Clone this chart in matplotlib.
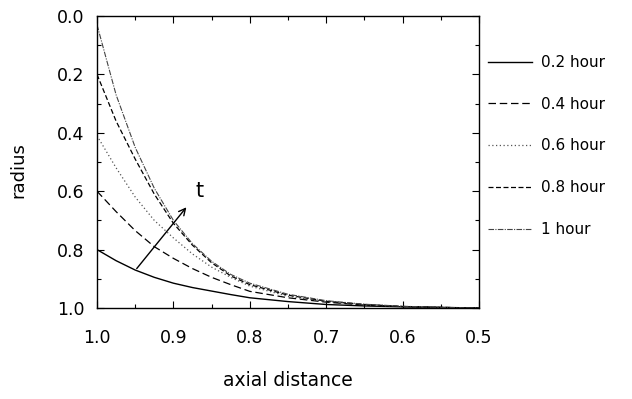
import matplotlib
matplotlib.use("Agg")
import matplotlib.pyplot as plt
from matplotlib.ticker import MultipleLocator

# --------------------------
# DATA
# --------------------------
axial = [1.0, 0.975, 0.95, 0.925, 0.9, 0.875, 0.85, 0.825, 0.8,
         0.75, 0.7, 0.65, 0.6, 0.55, 0.5]

r_02h = [0.80, 0.838, 0.87, 0.895, 0.915, 0.93, 0.942, 0.954, 0.965,
         0.978, 0.988, 0.993, 0.996, 0.998, 1.0]
r_04h = [0.60, 0.67, 0.735, 0.79, 0.83, 0.865, 0.895, 0.92, 0.943,
         0.965, 0.98, 0.99, 0.995, 0.998, 1.0]
r_06h = [0.41, 0.52, 0.62, 0.70, 0.76, 0.815, 0.86, 0.895, 0.925,
         0.96, 0.979, 0.989, 0.995, 0.998, 1.0]
r_08h = [0.20, 0.36, 0.49, 0.61, 0.71, 0.785, 0.845, 0.89, 0.92,
         0.956, 0.977, 0.988, 0.995, 0.998, 1.0]
r_1h = [0.03, 0.27, 0.45, 0.59, 0.70, 0.78, 0.84, 0.885, 0.915,
        0.953, 0.975, 0.987, 0.994, 0.998, 1.0]

labels = ["0.2 hour", "0.4 hour", "0.6 hour", "0.8 hour", "1 hour"]

# arrow showing increasing time
arrow_start = (0.948, 0.865)
arrow_end = (0.883, 0.655)
t_pos = (0.866, 0.60)

# --------------------------
# STYLE
# --------------------------
styles = [
    dict(color="black", linestyle="-", lw=1.0),
    dict(color="black", linestyle=(0, (6, 3)), lw=0.9),
    dict(color="#555555", linestyle=(0, (1, 2)), lw=0.9),
    dict(color="black", linestyle=(0, (4, 2)), lw=0.9),
    dict(color="#444444", linestyle=(0, (5, 1.2, 1, 1.2)), lw=0.8),
]

fig = plt.figure(figsize=(6.32, 3.99), dpi=100)
ax = fig.add_axes([97 / 632, 1 - 308 / 399, (479 - 97) / 632, (308 - 16) / 399])

series = [r_02h, r_04h, r_06h, r_08h, r_1h]
for vals, lab, st in zip(series, labels, styles):
    ax.plot(axial, vals, label=lab, **st)

ax.annotate("", xy=arrow_end, xytext=arrow_start,
            arrowprops=dict(arrowstyle="->", color="black", lw=1.0,
                            mutation_scale=12, shrinkA=0, shrinkB=0))
ax.text(t_pos[0], t_pos[1], "t", fontsize=15, ha="center", va="center")

ax.set_xlim(1.0, 0.5)
ax.set_ylim(1.0, 0.0)
ax.xaxis.set_major_locator(MultipleLocator(0.1))
ax.xaxis.set_minor_locator(MultipleLocator(0.05))
ax.yaxis.set_major_locator(MultipleLocator(0.2))
ax.yaxis.set_minor_locator(MultipleLocator(0.1))
ax.set_xticks([1.0, 0.9, 0.8, 0.7, 0.6, 0.5])
ax.set_xticklabels(["1.0", "0.9", "0.8", "0.7", "0.6", "0.5"])
ax.set_yticks([0.0, 0.2, 0.4, 0.6, 0.8, 1.0])
ax.set_yticklabels(["0.0", "0.2", "0.4", "0.6", "0.8", "1.0"])

ax.tick_params(which="both", direction="in", top=True, right=True, width=0.8)
ax.tick_params(which="major", length=5, labelsize=12.5)
ax.tick_params(which="minor", length=3)
ax.tick_params(axis="x", which="major", pad=15)
ax.tick_params(axis="y", which="major", pad=9)
for sp in ax.spines.values():
    sp.set_linewidth(1.0)

fig.text(288 / 632, 1 - 381 / 399, "axial distance", fontsize=13.5,
         ha="center", va="center")
fig.text(18 / 632, 1 - 170 / 399, "radius", fontsize=13, rotation=90,
         ha="center", va="center")

ax.legend(loc="upper left", bbox_to_anchor=(488 / 632, 1 - 55 / 399),
          bbox_transform=fig.transFigure, frameon=False, fontsize=11,
          handlelength=2.9, handletextpad=0.6, labelspacing=1.75,
          borderpad=0, borderaxespad=0)

fig.savefig("out.png", dpi=100)
